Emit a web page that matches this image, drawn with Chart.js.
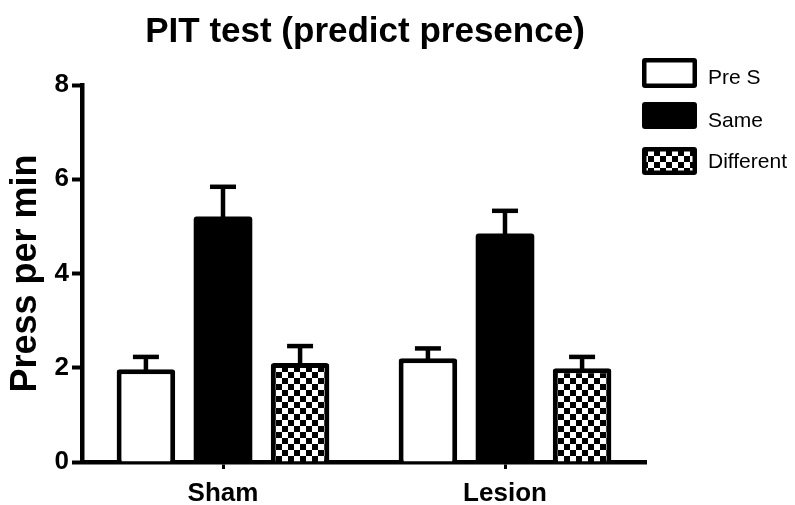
<!DOCTYPE html>
<html>
<head>
<meta charset="utf-8">
<script src="https://cdn.jsdelivr.net/npm/chart.js@4/dist/chart.umd.min.js"></script>
<style>
  html, body { margin: 0; padding: 0; background: #fff; }
  #wrap { width: 795px; height: 505px; }
</style>
</head>
<body>
<div id="wrap"><canvas id="c" width="795" height="505"></canvas></div>
<script>
// Groups along the x axis
const groups = ['Sham', 'Lesion'];
// Mean presses per minute per condition
const preS = [1.97, 2.20];
const same = [5.21, 4.85];
const different = [2.10, 1.99];
// Standard error (upper whisker) per condition
const preSErr = [0.26, 0.21];
const sameErr = [0.63, 0.48];
const differentErr = [0.36, 0.24];
// Y axis tick values
const yTicks = [0, 2, 4, 6, 8];
const chartTitle = 'PIT test (predict presence)';

const FONT = "'Liberation Sans', Arial, sans-serif";

// Black/white checkerboard fill
function checkerPattern() {
  const size = 6;
  const tile = document.createElement('canvas');
  tile.width = size * 2;
  tile.height = size * 2;
  const t = tile.getContext('2d');
  t.fillStyle = '#fff';
  t.fillRect(0, 0, size * 2, size * 2);
  t.fillStyle = '#000';
  t.fillRect(0, 0, size, size);
  t.fillRect(size, size, size, size);
  return document.getElementById('c').getContext('2d').createPattern(tile, 'repeat');
}
const checker = checkerPattern();

// Upper error whiskers with caps
const errorBars = {
  id: 'errorBars',
  afterDatasetsDraw(chart) {
    const ctx = chart.ctx;
    const y = chart.scales.y;
    ctx.save();
    ctx.strokeStyle = '#000';
    ctx.lineWidth = 4.5;
    ctx.lineCap = 'butt';
    chart.data.datasets.forEach((ds, di) => {
      const meta = chart.getDatasetMeta(di);
      meta.data.forEach((bar, i) => {
        const v = ds.data[i];
        const top = y.getPixelForValue(v + ds.errors[i]);
        const base = y.getPixelForValue(v);
        ctx.beginPath();
        ctx.moveTo(bar.x, base + 2);
        ctx.lineTo(bar.x, top);
        ctx.stroke();
        ctx.beginPath();
        ctx.moveTo(bar.x - 13, top);
        ctx.lineTo(bar.x + 13, top);
        ctx.stroke();
      });
    });
    ctx.restore();
  }
};

// Heading centred over the plot
const heading = {
  id: 'heading',
  afterDraw(chart, args, opts) {
    const ctx = chart.ctx;
    ctx.save();
    ctx.fillStyle = '#000';
    ctx.font = 'bold 35px ' + FONT;
    ctx.textAlign = 'center';
    ctx.textBaseline = 'alphabetic';
    ctx.fillText(opts.text, opts.x, opts.y);
    ctx.restore();
  }
};

// Legend boxes drawn to the right of the plot
const sideLegend = {
  id: 'sideLegend',
  afterDraw(chart, args, opts) {
    const ctx = chart.ctx;
    ctx.save();
    chart.data.datasets.forEach((ds, i) => {
      const b = opts.boxes[i];
      const bw = 4.5;
      ctx.fillStyle = '#000';
      ctx.beginPath();
      ctx.roundRect(b.x, b.y, b.w, b.h, 3);
      ctx.fill();
      ctx.fillStyle = ds.backgroundColor;
      ctx.fillRect(b.x + bw, b.y + bw, b.w - 2 * bw, b.h - 2 * bw);
      ctx.fillStyle = '#000';
      ctx.font = '21px ' + FONT;
      ctx.textBaseline = 'middle';
      ctx.textAlign = 'left';
      ctx.fillText(ds.label, opts.textX, b.textY);
    });
    ctx.restore();
  }
};

new Chart(document.getElementById('c'), {
  type: 'bar',
  data: {
    labels: groups,
    datasets: [
      { label: 'Pre S', data: preS, errors: preSErr, backgroundColor: '#fff', borderColor: '#000', borderWidth: 5 },
      { label: 'Same', data: same, errors: sameErr, backgroundColor: '#000', borderColor: '#000', borderWidth: 0 },
      { label: 'Different', data: different, errors: differentErr, backgroundColor: checker, borderColor: '#000', borderWidth: 5 }
    ]
  },
  plugins: [errorBars, heading, sideLegend],
  options: {
    responsive: false,
    animation: false,
    devicePixelRatio: 1,
    layout: { padding: { left: 0, right: 149, top: 85, bottom: 0 } },
    datasets: {
      bar: { categoryPercentage: 0.82, barPercentage: 0.76, borderRadius: 3, borderSkipped: 'bottom' }
    },
    plugins: {
      legend: { display: false },
      tooltip: { enabled: false },
      title: { display: false },
      heading: { text: chartTitle, x: 365, y: 42 },
      sideLegend: {
        textX: 708,
        boxes: [
          { x: 642, y: 58, w: 55, h: 30, textY: 78 },
          { x: 642, y: 102, w: 55, h: 27, textY: 121 },
          { x: 642, y: 147, w: 55, h: 28, textY: 162 }
        ]
      }
    },
    scales: {
      x: {
        offset: true,
        grid: { offset: false, drawOnChartArea: false, drawTicks: true, tickLength: 7, tickWidth: 3, color: '#000' },
        border: { color: '#000', width: 4.5 },
        ticks: { color: '#000', padding: 9, font: { family: FONT, size: 26, weight: 'bold' } },
        afterFit(scale) { scale.height = 43; }
      },
      y: {
        min: 0,
        max: 8,
        afterBuildTicks(scale) { scale.ticks = yTicks.map(v => ({ value: v })); },
        grid: { drawOnChartArea: false, drawTicks: true, tickLength: 10, tickWidth: 4, color: '#000' },
        border: { color: '#000', width: 4.5 },
        ticks: { color: '#000', padding: 3, font: { family: FONT, size: 26, weight: 'bold' } },
        title: {
          display: true,
          text: 'Press per min',
          color: '#000',
          padding: { top: 4, bottom: 0 },
          font: { family: FONT, size: 36, weight: 'bold' }
        },
        afterFit(scale) { scale.width = 82; }
      }
    }
  }
});
</script>
</body>
</html>
